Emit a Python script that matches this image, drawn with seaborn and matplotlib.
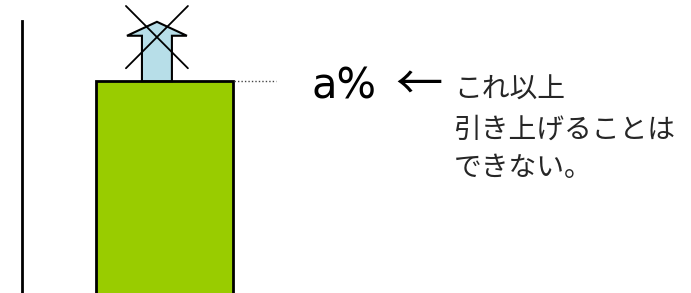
import matplotlib
matplotlib.use("Agg")
import matplotlib.pyplot as plt
import seaborn as sns
import pandas as pd
from matplotlib.patches import Polygon

sns.set_theme(style="white")
plt.rcParams['font.family'] = ['Noto Sans CJK JP', 'DejaVu Sans']

# data
categories = ["現状"]
values = [78]          # bar level ("a%")
cap_label = "a%"
note_lines = ["これ以上", "引き上げることは", "できない。"]

df = pd.DataFrame({"cat": categories, "val": values})

W, H = 691, 293
fig = plt.figure(figsize=(W / 100, H / 100), dpi=100)
ax = fig.add_axes([22 / W, -0.004, (W - 22) / W, (H - 21) / H + 0.004])

sns.barplot(data=df, x="cat", y="val", color="#99CC00", width=0.8,
            edgecolor="black", linewidth=2, saturation=1, ax=ax)

ax.set_xlim(-0.832, 3.075)
ax.set_ylim(0, 100)
ax.set_xticks([])
ax.set_yticks([])
ax.set_xlabel("")
ax.set_ylabel("")
for s in ["top", "right", "bottom"]:
    ax.spines[s].set_visible(False)
ax.spines["left"].set_color("black")
ax.spines["left"].set_linewidth(2)
ax.patch.set_alpha(0)

top = values[0]
# dotted guide line at the bar top
ax.plot([0.405, 0.651], [top, top], linestyle=(0, (1, 1.5)), color="#444444",
        lw=1, clip_on=False)

# up-arrow (blocked)
cx = -0.044
bw = 0.0875
hw = 0.175
head_base = top + 16.6
tip = top + 21.7
arrow = Polygon([(cx - bw, top), (cx - bw, head_base), (cx - hw, head_base),
                 (cx, tip), (cx + hw, head_base), (cx + bw, head_base),
                 (cx + bw, top)], closed=True, facecolor="#B7DEE8",
                edgecolor="black", lw=1.5, clip_on=False, zorder=3)
ax.add_patch(arrow)
ax.plot([-0.225, 0.137], [105.5, 82.7], color="black", lw=1.3, clip_on=False, zorder=4)
ax.plot([0.137, -0.225], [105.5, 82.7], color="black", lw=1.3, clip_on=False, zorder=4)

# texts
fig.text(311 / W, 1 - 99 / H, cap_label, fontsize=30, family=['DejaVu Sans'],
         va="baseline", ha="left", color="black")
fig.text(395 / W, 1 - 86 / H, "←", fontsize=34, family=['Noto Sans CJK JP', 'DejaVu Sans'],
         va="center", ha="left", color="black")
fs = 20
fig.text(454 / W, 1 - 90 / H, note_lines[0], fontsize=fs, va="center", ha="left")
fig.text(454 / W, 1 - 130 / H, note_lines[1], fontsize=fs, va="center", ha="left")
fig.text(454 / W, 1 - 168 / H, note_lines[2], fontsize=fs, va="center", ha="left")

fig.savefig("out.png", dpi=100)
